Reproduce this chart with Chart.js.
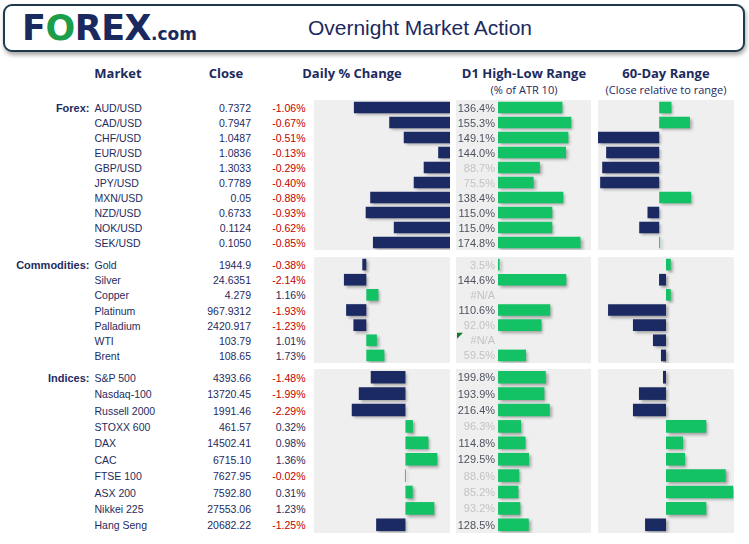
<!DOCTYPE html>
<html><head><meta charset="utf-8">
<script src="https://cdn.jsdelivr.net/npm/chart.js@4"></script>
<style>
body{margin:0;width:749px;height:544px;background:#fff;position:relative;overflow:hidden;font-family:"Liberation Sans",Arial,sans-serif;}
.t{position:absolute;white-space:nowrap;height:20px;line-height:20px;}
.box{position:absolute;left:3px;top:4px;width:738px;height:44px;border:2px solid #1f3a4e;border-radius:9px;box-shadow:1px 3px 4px rgba(0,0,0,.35);background:#fff;}
canvas{position:absolute;}
</style></head><body>
<div class="box"></div>
<div id="root"></div>
<script>
// ---------------- DATA ----------------
const sectionNames = ['Forex:', 'Commodities:', 'Indices:'];

const forexMarkets = ['AUD/USD','CAD/USD','CHF/USD','EUR/USD','GBP/USD','JPY/USD','MXN/USD','NZD/USD','NOK/USD','SEK/USD'];
const forexClose   = ['0.7372','0.7947','1.0487','1.0836','1.3033','0.7789','0.05','0.6733','0.1124','0.1050'];
const forexDaily   = [-1.06,-0.67,-0.51,-0.13,-0.29,-0.40,-0.88,-0.93,-0.62,-0.85];
const forexD1      = [136.4,155.3,149.1,144.0,88.7,75.5,138.4,115.0,115.0,174.8];
const forex60      = [9.0,22.6,-45.0,-39.0,-41.9,-43.4,23.5,-8.6,-14.7,0.7];

const commodityMarkets = ['Gold','Silver','Copper','Platinum','Palladium','WTI','Brent'];
const commodityClose   = ['1944.9','24.6351','4.279','967.9312','2420.917','103.79','108.65'];
const commodityDaily   = [-0.38,-2.14,1.16,-1.93,-1.23,1.01,1.73];
const commodityD1      = [3.5,144.6,null,110.6,92.0,null,59.5];
const commodity60      = [3.5,-5.1,3.5,-42.6,-24.3,-9.6,-3.7];
const commodityD1Flagged = ['WTI'];

const indexMarkets = ['S&P 500','Nasdaq-100','Russell 2000','STOXX 600','DAX','CAC','FTSE 100','ASX 200','Nikkei 225','Hang Seng'];
const indexClose   = ['4393.66','13720.45','1991.46','461.57','14502.41','6715.10','7627.95','7592.80','27553.06','20682.22'];
const indexDaily   = [-1.48,-1.99,-2.29,0.32,0.98,1.36,-0.02,0.31,1.23,-1.25];
const indexD1      = [199.8,193.9,216.4,96.3,114.8,129.5,88.6,85.2,93.2,128.5];
const index60      = [-2.2,-19.9,-24.3,29.6,12.5,14.0,43.9,49.3,29.6,-15.4];

const columnTitles = ['Market','Close','Daily % Change','D1 High-Low Range','60-Day Range'];
const columnSubtitles = ['(% of ATR 10)','(Close relative to range)'];

// ---------------- LAYOUT / STYLE ----------------
const NAVY = '#1b2a63', GREEN = '#12c264', PANEL = '#efefef', TXT = '#1f2b5e', RED = '#c00000';
const sections = [
  {markets: forexMarkets, close: forexClose, daily: forexDaily, d1: forexD1, r60: forex60, flagged: [],
   top: 100, bottom: 250, dailyAx: [-1.5, 0], d1Ax: [-89, 197], r60Ax: [-45, 55]},
  {markets: commodityMarkets, close: commodityClose, daily: commodityDaily, d1: commodityD1, r60: commodity60, flagged: commodityD1Flagged,
   top: 257, bottom: 363, dailyAx: [-5, 8], d1Ax: [-89, 197], r60Ax: [-50, 50]},
  {markets: indexMarkets, close: indexClose, daily: indexDaily, d1: indexD1, r60: index60, flagged: [],
   top: 369, bottom: 533, dailyAx: [-3.9, 1.9], d1Ax: [-176, 389], r60Ax: [-50, 50]}
];
const cols = {daily: [314, 136], d1: [456, 135], r60: [598, 136]};

const root = document.getElementById('root');
function txt(s, x, yc, align, css) {
  const d = document.createElement('div');
  d.className = 't';
  d.textContent = s;
  d.style.top = (yc - 10) + 'px';
  if (align === 'left') d.style.left = x + 'px';
  else if (align === 'right') d.style.right = (749 - x) + 'px';
  else { d.style.left = (x - 150) + 'px'; d.style.width = '300px'; d.style.textAlign = 'center'; }
  d.style.cssText += css || '';
  root.appendChild(d);
  return d;
}

// Header
const logo = document.createElement('div');
logo.className = 't';
logo.style.cssText += 'left:22px;top:8px;height:40px;line-height:40px;font-family:"DejaVu Sans";font-weight:bold;font-size:35px;color:#1b2a5e;letter-spacing:-0.5px;';
logo.innerHTML = 'F<span style="color:#1a9e4a">O</span>REX<span style="font-size:17px;letter-spacing:0">.com</span>';
root.appendChild(logo);
txt('Overnight Market Action', 420, 28, 'center', 'font-size:21px;color:#1c2a5e;height:30px;line-height:30px;top:13px;');

const hdr = 'font-family:"Open Sans";font-weight:bold;font-size:13px;color:#1c2a5e;';
const hx = [118, 226, 352, 524, 666];
columnTitles.forEach((s, i) => txt(s, hx[i], 72.5, 'center', hdr));
txt(columnSubtitles[0], 524, 89.5, 'center', 'font-family:"Open Sans";font-size:11px;color:#1c2a5e;');
txt(columnSubtitles[1], 666, 89.5, 'center', 'font-family:"Open Sans";font-size:11px;color:#1c2a5e;');

// Plugins
const bgPlugin = {id: 'bg', beforeDraw(c) { const x = c.ctx; x.save(); x.fillStyle = PANEL; x.fillRect(0, 0, c.width, c.height); x.restore(); }};
const shadowPlugin = {id: 'shadow',
  beforeDatasetsDraw(c) { const x = c.ctx; x.save(); x.shadowColor = 'rgba(0,0,0,0.33)'; x.shadowBlur = 3; x.shadowOffsetX = 2; x.shadowOffsetY = 2; },
  afterDatasetsDraw(c) { c.ctx.restore(); }};
function d1LabelPlugin(sec) {
  return {id: 'd1labels', afterDraw(c) {
    const x = c.ctx, xs = c.scales.x, ys = c.scales.y;
    x.save();
    x.font = '11px "Liberation Sans", Arial, sans-serif';
    x.textAlign = 'right'; x.textBaseline = 'middle';
    sec.d1.forEach((v, i) => {
      const y = ys.getPixelForValue(i) + 1;
      x.fillStyle = (v !== null && v >= 100) ? '#4f5360' : '#c3c3c3';
      x.fillText(v === null ? '#N/A' : v.toFixed(1) + '%', xs.getPixelForValue(0) - 3, y);
      if (sec.flagged.includes(sec.markets[i])) {
        const band = (c.chartArea.bottom - c.chartArea.top) / sec.markets.length;
        const top = ys.getPixelForValue(i) - band / 2;
        x.fillStyle = '#137a2b';
        x.beginPath(); x.moveTo(1, top); x.lineTo(7, top); x.lineTo(1, top + 6); x.closePath(); x.fill();
      }
    });
    x.restore();
  }};
}

function panel(col, sec, values, colors, ax, extra) {
  const cv = document.createElement('canvas');
  const [left, w] = cols[col];
  const h = sec.bottom - sec.top;
  cv.width = w; cv.height = h;
  cv.style.left = left + 'px'; cv.style.top = sec.top + 'px';
  cv.style.width = w + 'px'; cv.style.height = h + 'px';
  root.appendChild(cv);
  const plugins = [bgPlugin, shadowPlugin];
  if (extra) plugins.push(extra);
  new Chart(cv, {
    type: 'bar',
    data: {labels: sec.markets, datasets: [{data: values, backgroundColor: colors, borderWidth: 0,
      barPercentage: 0.77, categoryPercentage: 1}]},
    options: {
      indexAxis: 'y', responsive: false, animation: false, devicePixelRatio: 1,
      layout: {padding: 0},
      plugins: {legend: {display: false}, tooltip: {enabled: false}},
      scales: {x: {display: false, min: ax[0], max: ax[1]}, y: {display: false}}
    },
    plugins
  });
}

sections.forEach((sec, si) => {
  const n = sec.markets.length, band = (sec.bottom - sec.top) / n;
  sec.markets.forEach((m, i) => {
    const yc = sec.top + (i + 0.5) * band + 0.5;
    if (i === 0) txt(sectionNames[si], 89.5, yc, 'right', 'font-weight:bold;font-size:11px;color:' + TXT + ';');
    txt(m, 94.5, yc, 'left', 'font-size:10.5px;color:' + TXT + ';');
    txt(sec.close[i], 251, yc, 'right', 'font-size:10.5px;color:' + TXT + ';');
    const v = sec.daily[i];
    txt(v.toFixed(2) + '%', 305.5, yc, 'right', 'font-size:10.5px;color:' + (v < 0 ? RED : TXT) + ';');
  });
  const sign = arr => arr.map(v => v < 0 ? NAVY : GREEN);
  panel('daily', sec, sec.daily, sign(sec.daily), sec.dailyAx);
  panel('d1', sec, sec.d1, sec.d1.map(() => GREEN), sec.d1Ax, d1LabelPlugin(sec));
  panel('r60', sec, sec.r60, sign(sec.r60), sec.r60Ax);
});
</script>
</body></html>
